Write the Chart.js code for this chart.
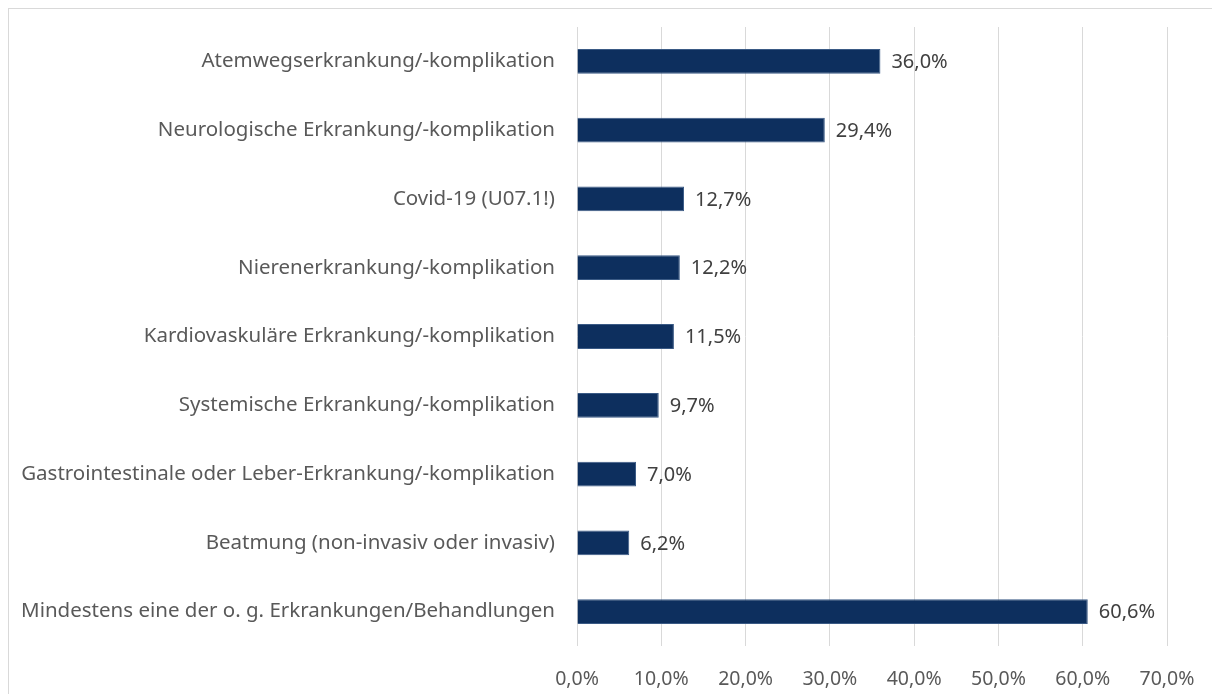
<!DOCTYPE html>
<html>
<head>
<meta charset="utf-8">
<script src="https://cdn.jsdelivr.net/npm/chart.js@4/dist/chart.umd.min.js"></script>
<style>
  html, body { margin: 0; padding: 0; background: #ffffff; overflow: hidden; }
  .frame { position: absolute; left: 8px; top: 8px; width: 1300px; height: 800px; border: 1px solid #d9d9d9; box-sizing: border-box; }
  .wrap { position: absolute; left: 0; top: 0; width: 1212px; height: 694px; }
</style>
</head>
<body>
<div class="frame"></div>
<div class="wrap"><canvas id="chart"></canvas></div>
<script>
const categories = [
  "Atemwegserkrankung/-komplikation",
  "Neurologische Erkrankung/-komplikation",
  "Covid-19 (U07.1!)",
  "Nierenerkrankung/-komplikation",
  "Kardiovaskuläre Erkrankung/-komplikation",
  "Systemische Erkrankung/-komplikation",
  "Gastrointestinale oder Leber-Erkrankung/-komplikation",
  "Beatmung (non-invasiv oder invasiv)",
  "Mindestens eine der o. g. Erkrankungen/Behandlungen",
];
const shares = [36.0, 29.4, 12.7, 12.2, 11.5, 9.7, 7.0, 6.2, 60.6];
const tickValues = [0, 10, 20, 30, 40, 50, 60, 70];

const FONT = "'Noto Sans', 'Open Sans', sans-serif";
const fmt = (v) => v.toFixed(1).replace(".", ",") + "%";

const valueLabels = {
  id: "valueLabels",
  afterDatasetsDraw(chart) {
    const ctx = chart.ctx;
    const meta = chart.getDatasetMeta(0);
    ctx.save();
    ctx.font = "20px " + FONT;
    ctx.fillStyle = "#404040";
    ctx.textAlign = "left";
    ctx.textBaseline = "middle";
    meta.data.forEach((bar, i) => {
      ctx.fillText(fmt(shares[i]), bar.x + 11, bar.y + 1);
    });
    ctx.restore();
  },
};

new Chart(document.getElementById("chart"), {
  type: "bar",
  data: {
    labels: categories,
    datasets: [{
      data: shares,
      backgroundColor: "#0d2f5e",
      borderColor: "#3a5a85",
      borderWidth: 1,
      borderSkipped: "start",
      barPercentage: 0.36,
      categoryPercentage: 1.0,
    }],
  },
  options: {
    indexAxis: "y",
    responsive: true,
    maintainAspectRatio: false,
    animation: false,
    layout: { padding: { top: 27, right: 45, bottom: 0, left: 0 } },
    plugins: { legend: { display: false }, tooltip: { enabled: false } },
    scales: {
      x: {
        min: 0,
        max: 70,
        afterBuildTicks: (axis) => { axis.ticks = tickValues.map((v) => ({ value: v })); },
        afterFit: (axis) => { axis.height = 48; axis.paddingLeft = 0; axis.paddingRight = 0; },
        grid: { color: "#d9d9d9", lineWidth: 1, drawTicks: false },
        border: { display: false },
        ticks: {
          padding: 22,
          color: "#595959",
          font: { family: FONT, size: 19.5 },
          callback: (v) => fmt(v),
        },
      },
      y: {
        afterFit: (axis) => { axis.width = 577; axis.paddingTop = 0; axis.paddingBottom = 0; },
        grid: { display: false, drawTicks: false },
        border: { display: false },
        ticks: {
          padding: 22,
          color: "#595959",
          font: { family: FONT, size: 20.5 },
        },
      },
    },
  },
  plugins: [valueLabels],
});
</script>
</body>
</html>
